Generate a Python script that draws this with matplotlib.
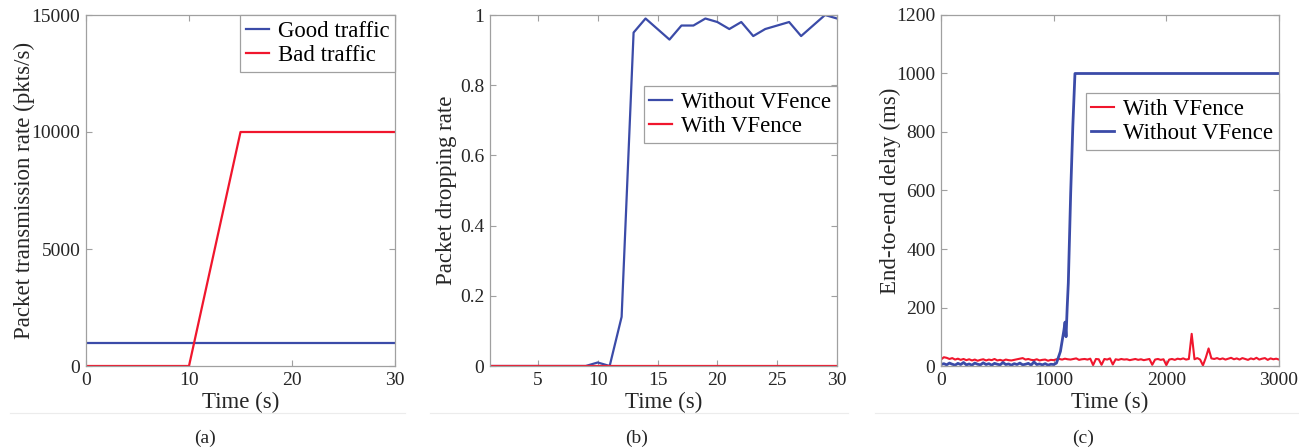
import numpy as np
import matplotlib
matplotlib.use("Agg")
import matplotlib.pyplot as plt
from matplotlib.lines import Line2D

plt.rcParams['font.family'] = ['Liberation Serif', 'DejaVu Serif']
plt.rcParams['mathtext.fontset'] = 'stix'

BLUE = '#3b4ba8'
RED = '#f0162d'
SPINE = '#a0a0a0'
TXT = '#262626'

# ---- panel (a) data ----
a_time = [0, 10, 15, 30]
a_good = [1000, 1000, 1000, 1000]
a_bad = [0, 0, 10000, 10000]

# ---- panel (b) data ----
b_time = list(range(1, 31))
b_without = [0, 0, 0, 0, 0, 0, 0, 0, 0, 0.01, 0, 0.14, 0.95, 0.99, 0.96,
             0.93, 0.97, 0.97, 0.99, 0.98, 0.96, 0.98, 0.94, 0.96, 0.97,
             0.98, 0.94, 0.97, 1.00, 0.99]
b_with = [0] * 30

# ---- panel (c) data ----
c_red = [22, 30, 28, 24, 27, 22, 25, 21, 24, 20, 23, 19, 22, 18, 21, 23, 19, 22, 20, 24,
         19, 21, 18, 22, 20, 19, 21, 23, 25, 27, 22, 24, 21, 20, 23, 19, 21, 22, 18, 21,
         20, 23, 24, 22, 25, 23, 22, 24, 26, 21, 23, 24, 22, 25, 3, 24, 23, 4, 24, 22,
         26, 5, 23, 21, 24, 22, 23, 20, 22, 24, 21, 23, 20, 22, 24, 4, 22, 24, 21, 23,
         3, 22, 24, 21, 25, 23, 26, 22, 24, 110, 23, 27, 22, 2, 28, 60, 26, 24, 27, 23,
         26, 22, 25, 28, 23, 26, 22, 27, 24, 21, 26, 23, 28, 22, 25, 27, 21, 26, 23, 25, 22]
c_red_time = np.linspace(0, 3000, len(c_red))

c_blue_time = list(range(0, 1050, 25)) + [1060, 1075, 1090, 1101, 1110, 1120, 1130,
                                           1140, 1151, 1170, 1189, 3000]
c_blue = [5, 8, 4, 10, 6, 3, 9, 5, 12, 4, 7, 3, 10, 6, 4, 11, 5, 8, 3, 9, 6,
          4, 12, 5, 7, 3, 8, 5, 10, 4, 6, 9, 3, 14, 5, 7, 4, 8, 3, 6, 5, 10,
          50, 85, 120, 150, 100, 200, 284, 430, 591, 820, 1000, 1000]

W, H = 1299, 448
fig = plt.figure(figsize=(W / 100, H / 100), dpi=100)

def style(ax):
    for s in ax.spines.values():
        s.set_color(SPINE)
        s.set_linewidth(0.9)
    ax.tick_params(direction='in', top=True, right=True, color=SPINE,
                   labelcolor=TXT, labelsize=14, length=4, pad=4)

def leg(ax, anchor):
    lg = ax.legend(loc='upper right', bbox_to_anchor=anchor, fontsize=16.4,
                   fancybox=False, framealpha=1, edgecolor=SPINE,
                   handlelength=1.0, handletextpad=0.4, labelspacing=0.15,
                   borderpad=0.25, borderaxespad=0)
    lg.get_frame().set_linewidth(0.9)
    for t in lg.get_texts():
        t.set_color('black')
    return lg

XLP = 2.5

# panel (a)
ax1 = fig.add_axes([86 / W, 1 - 366 / H, 309 / W, 351 / H])
ax1.plot(a_time, a_good, color=BLUE, lw=1.6, label='Good traffic')
ax1.plot(a_time, a_bad, color=RED, lw=1.6, label='Bad traffic')
ax1.set_xlim(0, 30)
ax1.set_ylim(0, 15000)
ax1.set_xticks([0, 10, 20, 30])
ax1.set_yticks([0, 5000, 10000, 15000])
ax1.set_xlabel('Time (s)', fontsize=16.5, color=TXT, labelpad=XLP)
ax1.set_ylabel('Packet transmission rate (pkts/s)', fontsize=16.5, color=TXT, labelpad=-2.3)
style(ax1)
leg(ax1, (1, 1))

# panel (b)
ax2 = fig.add_axes([490 / W, 1 - 366 / H, 347 / W, 351 / H])
ax2.plot(b_time, b_without, color=BLUE, lw=1.6, label='Without VFence')
ax2.plot(b_time, b_with, color=RED, lw=1.6, label='With VFence')
ax2.set_xlim(1, 30)
ax2.set_ylim(0, 1)
ax2.set_xticks([5, 10, 15, 20, 25, 30])
ax2.set_yticks([0, 0.2, 0.4, 0.6, 0.8, 1])
ax2.set_yticklabels(['0', '0.2', '0.4', '0.6', '0.8', '1'])
ax2.set_xlabel('Time (s)', fontsize=16.5, color=TXT, labelpad=XLP)
ax2.set_ylabel('Packet dropping rate', fontsize=16.5, color=TXT, labelpad=2.5)
style(ax2)
leg(ax2, (1, 0.798))

# panel (c)
ax3 = fig.add_axes([941 / W, 1 - 366 / H, 338 / W, 351 / H])
ax3.plot(c_red_time, c_red, color=RED, lw=1.5, label='With VFence')
ax3.plot(c_blue_time, c_blue, color=BLUE, lw=2.0, label='Without VFence')
ax3.set_xlim(0, 3000)
ax3.set_ylim(0, 1200)
ax3.set_xticks([0, 1000, 2000, 3000])
ax3.set_yticks([0, 200, 400, 600, 800, 1000, 1200])
ax3.set_xlabel('Time (s)', fontsize=16.5, color=TXT, labelpad=XLP)
ax3.set_ylabel('End-to-end delay (ms)', fontsize=16.5, color=TXT, labelpad=-3.8)
style(ax3)
leg(ax3, (1, 0.778))

# separator lines and captions
ly = 1 - 413 / H
for x0, x1 in [(10, 405), (430, 848), (875, 1298)]:
    fig.add_artist(Line2D([x0 / W, x1 / W], [ly, ly], color='#ececec', lw=0.8))
for xc, lab in [(205, '(a)'), (637, '(b)'), (1083, '(c)')]:
    fig.text(xc / W, 1 - 438 / H, lab, ha='center', va='center', fontsize=14, color=TXT)

fig.savefig('out.png', dpi=100)
